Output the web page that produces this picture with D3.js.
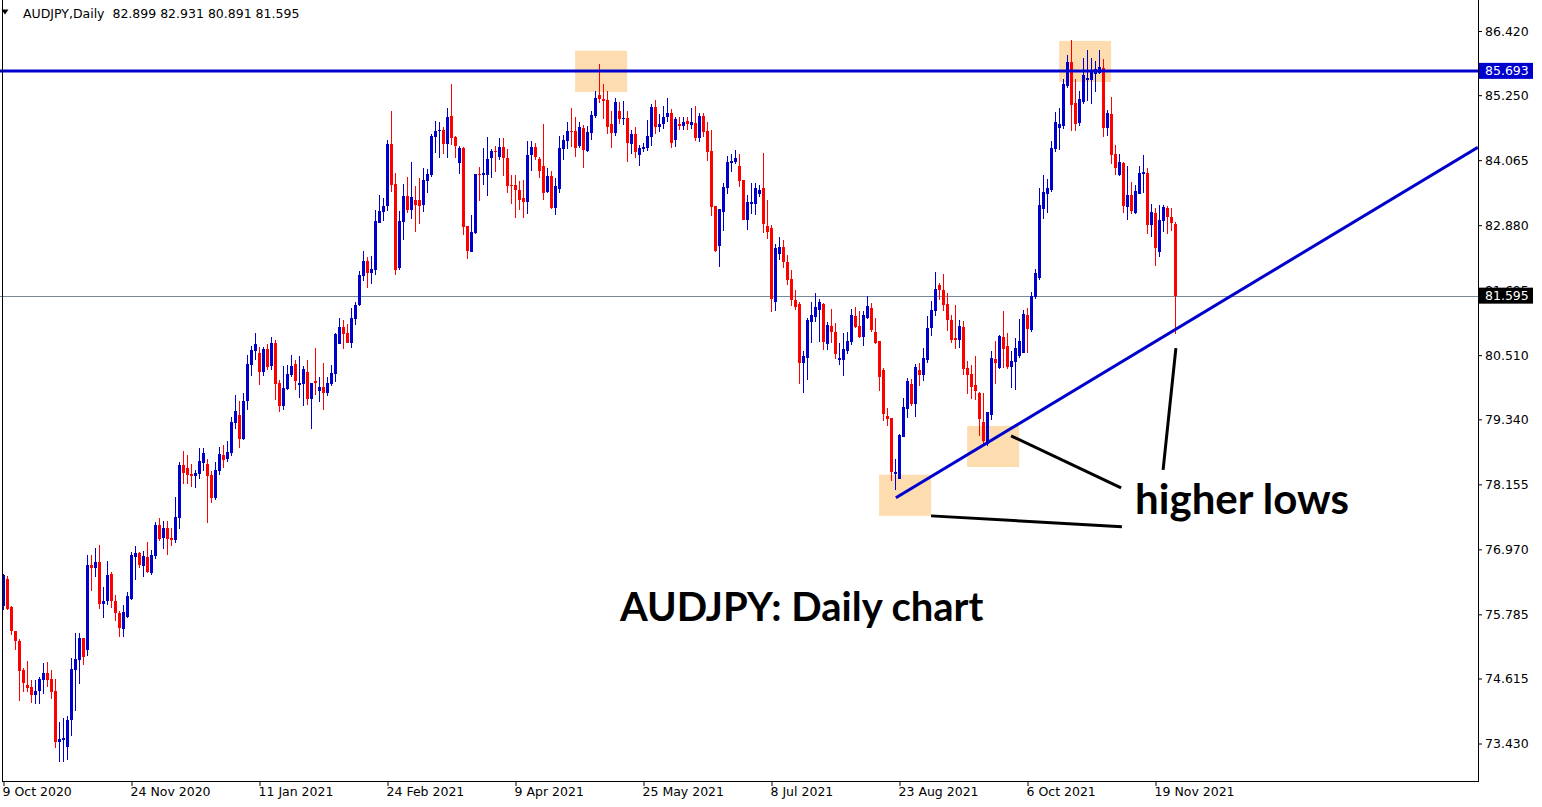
<!DOCTYPE html>
<html><head><meta charset="utf-8">
<script src="https://cdn.jsdelivr.net/npm/d3@7"></script>
<style>
html,body{margin:0;padding:0;background:#fff;}
svg{display:block;}
</style></head><body>
<svg id="chart" width="1542" height="807"></svg>
<script>
// ---------- DATA ----------
const symbolLabel = "AUDJPY,Daily";
const headerOHLC = [82.899, 82.931, 80.891, 81.595];

const opens = [
75.94,76.43,75.91,75.48,75.30,74.77,74.50,74.46,74.31,74.39,
74.59,74.72,74.61,74.39,73.46,73.49,73.37,73.86,74.77,74.95,
75.35,75.13,76.68,76.63,76.74,75.97,76.03,76.52,76.03,75.81,
75.52,75.74,76.06,76.83,76.90,76.67,76.83,76.54,76.85,77.41,
77.18,77.36,77.18,77.14,77.54,78.51,78.45,78.34,78.31,78.34,
78.54,78.53,78.33,77.91,78.40,78.69,78.62,78.73,79.27,79.42,
78.98,79.67,80.33,80.59,80.55,80.20,80.62,80.31,80.73,80.00,
79.58,79.89,80.15,80.35,79.97,79.98,80.20,79.71,80.04,79.86,
79.93,79.82,79.98,80.17,80.71,81.02,80.91,80.73,81.17,81.42,
81.95,82.23,82.01,82.06,82.92,83.12,83.23,84.36,83.63,82.10,
82.94,83.41,83.16,83.34,83.34,83.25,83.69,83.79,84.49,84.60,
84.61,84.36,84.87,84.49,84.01,84.29,82.86,82.39,82.74,83.81,
83.79,83.79,84.10,84.23,84.12,84.31,84.10,83.61,83.61,83.52,
83.38,83.30,84.16,84.31,84.09,83.96,83.48,83.78,83.19,83.54,
84.27,84.41,84.60,84.60,84.32,84.65,84.23,84.56,84.87,85.25,
85.18,85.16,84.72,84.56,84.96,84.82,84.83,84.36,84.54,84.16,
84.27,84.29,84.49,85.03,84.67,84.72,84.85,84.92,84.43,84.72,
84.69,84.78,84.71,84.74,84.47,84.87,84.60,84.23,83.23,82.50,
83.12,83.56,84.01,84.03,83.96,83.70,82.97,83.27,83.27,83.45,
83.56,82.86,82.83,81.48,82.35,82.48,82.21,81.90,81.52,81.44,
80.37,80.46,81.11,81.21,81.33,81.44,80.71,81.04,80.93,80.42,
80.42,80.59,80.75,81.22,81.04,80.84,81.19,81.37,80.93,80.77,
80.24,79.40,79.36,78.34,78.25,79.02,79.53,79.98,79.62,80.24,
80.15,80.42,81.00,81.31,81.79,81.70,81.44,81.15,80.82,80.79,
81.02,80.28,80.17,79.97,79.82,79.29,78.89,79.42,80.44,80.28,
80.84,80.68,80.29,80.39,80.49,80.55,81.24,80.97,81.57,81.92,
83.17,83.45,83.52,84.27,84.65,84.69,85.42,85.85,85.11,84.74,
85.13,85.53,85.53,85.64,85.65,85.75,84.65,84.91,84.18,83.79,
84.01,83.21,83.43,83.10,83.45,83.81,83.83,82.88,83.10,82.39,
82.96,83.19,83.03,82.899];

const highs = [
76.52,76.48,75.94,75.48,75.34,74.81,74.93,74.59,74.59,74.65,
74.90,74.92,74.77,74.61,73.82,73.90,73.93,74.99,75.44,75.44,
75.35,76.87,76.87,76.99,77.05,76.28,76.76,76.56,76.14,75.85,
75.96,76.19,76.92,77.03,76.92,76.94,77.10,76.96,77.47,77.54,
77.49,77.49,77.36,77.92,78.56,78.76,78.69,78.53,78.42,78.82,
78.82,78.62,78.40,78.56,78.84,78.87,78.95,79.38,79.78,79.67,
79.82,80.51,80.68,80.91,80.66,80.66,80.71,80.84,80.79,80.06,
80.31,80.33,80.51,80.42,80.49,80.31,80.42,80.00,80.64,80.11,
80.37,80.11,80.33,80.91,81.19,81.15,81.08,81.37,81.48,82.04,
82.41,82.30,82.32,83.16,83.43,83.37,84.43,84.96,83.83,83.14,
83.63,83.76,84.03,83.59,83.74,83.92,83.90,84.54,84.78,84.76,
84.67,85.02,85.45,84.51,84.32,84.31,82.86,83.07,83.81,83.94,
84.29,84.49,84.27,84.32,84.47,84.47,84.27,83.79,83.79,83.69,
83.70,84.41,84.41,84.38,84.12,84.72,83.92,83.87,83.74,84.51,
84.52,84.76,85.02,84.85,84.76,84.71,84.69,84.96,85.33,85.82,
85.45,85.33,84.96,85.20,85.13,85.14,84.96,84.61,84.67,84.34,
84.38,84.80,85.09,85.16,84.91,85.05,85.20,85.00,84.85,84.85,
84.85,84.85,85.02,85.05,84.92,84.92,84.76,84.61,83.23,83.17,
83.65,84.14,84.18,84.25,84.18,83.70,83.43,83.65,83.65,83.61,
84.20,83.34,82.88,82.54,82.66,82.61,82.34,82.06,81.70,81.48,
80.58,81.19,81.48,81.64,81.53,81.46,81.11,81.35,81.09,80.73,
80.91,80.93,81.35,81.39,81.31,81.31,81.59,81.46,81.19,80.77,
80.28,79.55,79.36,78.62,79.07,79.73,80.09,80.07,80.35,80.37,
80.64,81.22,81.50,82.03,81.83,81.99,81.64,81.24,81.42,81.15,
81.13,80.40,80.33,80.49,79.84,79.82,79.47,80.59,80.77,80.88,
81.31,80.91,80.59,80.82,81.17,81.33,81.37,81.66,82.08,83.56,
83.79,83.72,84.41,84.94,85.02,85.54,85.98,86.26,85.54,85.33,
85.93,86.07,85.93,85.87,86.07,85.91,84.98,85.22,84.34,84.18,
84.03,83.96,83.67,83.61,83.96,84.16,83.92,83.27,83.19,83.25,
83.25,83.23,83.19,82.931];

const lows = [
75.86,75.86,75.41,75.13,74.21,74.37,74.37,74.17,74.15,74.15,
74.34,74.46,74.24,73.35,73.10,73.10,73.13,73.57,74.02,74.52,
74.86,75.03,76.21,76.47,75.88,75.72,75.96,75.90,75.66,75.37,
75.37,75.72,76.05,76.41,76.63,76.47,76.54,76.50,76.79,77.12,
76.98,76.87,77.03,77.09,77.34,78.16,78.16,78.11,78.09,78.25,
78.40,77.45,77.81,77.87,78.33,78.45,78.56,78.67,79.16,78.82,
78.96,79.51,80.13,80.42,79.97,80.13,80.24,80.24,79.69,79.47,
79.51,79.87,80.11,79.87,79.73,79.58,79.60,79.16,79.78,79.66,
79.51,79.77,79.95,80.02,80.71,80.62,80.73,80.64,81.06,81.40,
81.86,81.73,81.81,81.97,82.92,82.96,83.14,83.48,81.97,82.06,
82.61,83.10,82.99,82.76,82.90,83.12,83.47,83.76,84.20,84.10,
84.18,84.10,84.34,84.10,83.81,82.70,82.26,82.39,82.72,83.32,
83.61,83.41,83.74,83.85,84.07,83.78,83.47,83.27,83.01,83.16,
83.01,83.08,83.87,84.07,83.74,83.34,83.47,83.17,83.07,83.47,
84.07,84.27,84.31,84.12,84.29,83.92,84.21,84.43,84.83,85.11,
84.82,84.54,84.29,84.51,84.72,84.71,84.03,84.18,84.10,83.96,
84.21,84.23,84.32,84.54,84.58,84.63,84.76,84.29,84.31,84.62,
84.62,84.62,84.63,84.41,84.40,84.49,84.05,83.05,82.39,82.12,
82.77,83.45,83.85,83.99,83.58,82.97,82.79,83.08,83.07,83.39,
82.74,82.63,81.30,81.31,82.24,82.10,81.79,81.41,81.33,79.98,
79.82,80.06,80.73,81.11,80.75,80.60,80.60,80.73,80.44,80.33,
80.13,80.53,80.69,81.00,80.82,80.68,81.17,80.93,80.71,79.86,
79.31,79.22,78.22,78.05,78.25,79.02,79.36,79.58,79.38,79.95,
80.04,80.37,80.86,81.22,81.52,81.32,80.95,80.73,80.62,80.64,
80.15,79.80,79.71,79.69,79.04,78.85,78.85,79.33,79.98,80.26,
80.28,80.26,79.91,79.87,80.46,80.55,80.55,80.93,81.53,81.88,
82.99,83.10,83.48,84.21,84.25,84.63,85.38,84.60,84.60,84.69,
85.09,85.14,85.09,85.31,85.64,84.49,84.51,83.99,83.79,83.78,
83.10,82.97,83.08,83.08,83.45,83.47,82.72,82.66,82.14,82.30,
82.76,82.72,82.77,80.891];

const closes = [
76.50,75.88,75.48,75.29,74.75,74.54,74.44,74.31,74.39,74.61,
74.72,74.59,74.37,73.46,73.51,73.53,73.86,74.79,74.97,75.35,
75.01,76.68,76.63,76.74,75.97,76.03,76.50,76.03,75.81,75.54,
75.83,76.12,76.87,76.90,76.68,76.85,76.56,76.87,77.41,77.16,
77.36,77.16,77.14,77.56,78.51,78.36,78.32,78.31,78.36,78.58,
78.73,78.31,77.91,78.42,78.71,78.60,78.74,79.29,79.49,78.98,
79.67,80.35,80.60,80.71,80.20,80.62,80.29,80.73,79.98,79.58,
79.91,80.17,80.31,80.04,80.00,80.26,79.71,80.00,80.00,79.93,
79.82,80.00,80.19,80.90,81.02,80.90,80.73,81.19,81.42,81.97,
82.23,82.01,82.08,82.96,83.14,83.23,84.36,83.61,82.06,82.96,
83.41,83.16,83.39,83.25,83.23,83.70,83.81,84.51,84.60,84.61,
84.36,84.85,84.47,84.32,84.29,82.85,82.41,82.76,83.81,83.79,
83.83,84.09,84.23,84.21,84.31,84.10,83.59,83.59,83.52,83.34,
83.30,84.16,84.31,84.12,83.87,83.47,83.78,83.19,83.59,84.29,
84.43,84.60,84.58,84.29,84.67,84.25,84.58,84.89,85.20,85.18,
85.14,84.67,84.56,85.13,84.82,84.83,84.38,84.54,84.21,84.29,
84.31,84.51,85.03,84.67,84.72,84.85,84.92,84.38,84.82,84.69,
84.76,84.72,84.76,84.47,84.87,84.58,84.21,83.21,82.41,83.17,
83.58,84.03,84.05,84.10,83.69,82.97,83.30,83.30,83.56,83.52,
82.90,82.76,81.53,82.46,82.48,82.21,81.88,81.52,81.39,80.37,
80.49,81.15,81.24,81.39,81.48,80.75,81.06,80.93,80.53,80.46,
80.62,80.77,81.24,81.02,80.84,81.24,81.41,80.97,80.73,80.11,
79.44,79.35,78.38,78.38,79.05,79.56,80.04,79.62,80.29,80.15,
80.46,81.00,81.33,81.71,81.70,81.42,81.15,80.79,80.79,81.04,
80.26,80.15,79.93,79.86,79.35,78.95,79.47,80.46,80.37,80.86,
80.62,80.29,80.40,80.64,80.77,81.26,80.99,81.59,82.01,83.25,
83.48,83.56,84.29,84.76,84.72,85.45,85.85,85.07,84.72,85.18,
85.62,85.56,85.67,85.73,85.76,84.65,84.93,84.16,83.92,84.03,
83.23,83.43,83.14,83.50,83.83,83.85,82.88,83.12,82.46,82.97,
83.21,83.03,82.92,81.595];

const xTickBars   = [0, 32, 64, 96, 128, 160, 192, 224, 256, 288];
const xTickLabels = ["9 Oct 2020","24 Nov 2020","11 Jan 2021","24 Feb 2021","9 Apr 2021",
                     "25 May 2021","8 Jul 2021","23 Aug 2021","6 Oct 2021","19 Nov 2021"];
const yTickValues = [86.420, 85.250, 84.065, 82.880, 81.695, 80.510, 79.340, 78.155, 76.970, 75.785, 74.615, 73.430];

const resistanceLevel = 85.693;
const lastPrice = 81.595;
// trend line anchors (bar index, price)
const trendLine = [{i: 223.1, p: 77.91}, {i: 368.6, p: 84.30}];
// highlighted zones (bar index range, price range)
const zones = [
  {i0: 142.9, i1: 155.9, p0: 85.31, p1: 86.06},
  {i0: 263.9, i1: 276.9, p0: 85.49, p1: 86.24},
  {i0: 240.9, i1: 253.9, p0: 78.47, p1: 79.22},
  {i0: 218.9, i1: 231.9, p0: 77.58, p1: 78.33}
];
// callout lines (bar index, price)
const callouts = [
  [{i: 251.9, p: 79.04}, {i: 279.4, p: 78.09}],
  [{i: 231.9, p: 77.58}, {i: 279.6, p: 77.38}],
  [{i: 293.1, p: 80.64}, {i: 289.9, p: 78.42}]
];
const notes = [
  {text: "higher lows", i: 282.9, p: 77.61, size: 42},
  {text: "AUDJPY: Daily chart", i: 154.1, p: 75.66, size: 40}
];

// ---------- DRAWING ----------
const W = 1542, H = 807;
const plotLeft = 2, plotRight = 1478, plotTop = 0, plotBottom = 781;
const BLUE = "#0000CD", RED = "#FF0000";
const FONT = "'DejaVu Sans', sans-serif";

const n = closes.length;
const x = d3.scaleLinear().domain([0, n - 1]).range([3.5, 3.5 + 4 * (n - 1)]);
const y = d3.scaleLinear().domain([73.43, 86.42]).range([743.5, 31]);

const svg = d3.select("#chart");
svg.append("rect").attr("width", W).attr("height", H).attr("fill", "#fff");

svg.append("defs").append("clipPath").attr("id", "plotClip")
  .append("rect").attr("x", 0).attr("y", plotTop).attr("width", plotRight).attr("height", plotBottom - plotTop);

const plot = svg.append("g").attr("clip-path", "url(#plotClip)");

// zones (behind candles)
plot.append("g").selectAll("rect").data(zones).join("rect")
  .attr("x", d => x(d.i0)).attr("width", d => x(d.i1) - x(d.i0))
  .attr("y", d => y(d.p1)).attr("height", d => y(d.p0) - y(d.p1))
  .attr("fill", "#FDDDB0");

// last price grey line
plot.append("line")
  .attr("x1", 0).attr("x2", plotRight)
  .attr("y1", Math.round(y(lastPrice)) + 0.5).attr("y2", Math.round(y(lastPrice)) + 0.5)
  .attr("stroke", "#778899").attr("stroke-width", 1);

// candles
const bars = d3.range(n).map(i => {
  const o = opens[i], c = closes[i];
  return {i, o, c, h: Math.max(highs[i], o, c), l: Math.min(lows[i], o, c)};
});
const cg = plot.append("g").attr("shape-rendering", "crispEdges");
cg.selectAll("rect.wick").data(bars).join("rect").attr("class", "wick")
  .attr("x", d => x(d.i) - 0.5).attr("width", 1)
  .attr("y", d => y(d.h)).attr("height", d => Math.max(1, y(d.l) - y(d.h)))
  .attr("fill", d => d.c >= d.o ? BLUE : RED);
cg.selectAll("rect.body").data(bars).join("rect").attr("class", "body")
  .attr("x", d => x(d.i) - 1.5).attr("width", 3)
  .attr("y", d => y(Math.max(d.o, d.c))).attr("height", d => Math.max(1, Math.abs(y(d.o) - y(d.c))))
  .attr("fill", d => d.c >= d.o ? BLUE : RED);

// resistance line
plot.append("line")
  .attr("x1", 0).attr("x2", plotRight)
  .attr("y1", y(resistanceLevel)).attr("y2", y(resistanceLevel))
  .attr("stroke", BLUE).attr("stroke-width", 3);

// trend line
plot.append("line")
  .attr("x1", x(trendLine[0].i)).attr("y1", y(trendLine[0].p))
  .attr("x2", x(trendLine[1].i)).attr("y2", y(trendLine[1].p))
  .attr("stroke", BLUE).attr("stroke-width", 3);

// callouts
plot.append("g").selectAll("line").data(callouts).join("line")
  .attr("x1", d => x(d[0].i)).attr("y1", d => y(d[0].p))
  .attr("x2", d => x(d[1].i)).attr("y2", d => y(d[1].p))
  .attr("stroke", "#000").attr("stroke-width", 3);

// notes
plot.append("g").selectAll("text").data(notes).join("text")
  .attr("x", d => x(d.i)).attr("y", d => y(d.p))
  .attr("font-family", "Lato, 'Open Sans', sans-serif").attr("font-weight", 700)
  .attr("font-size", d => d.size).attr("fill", "#000")
  .text(d => d.text);

// frame
const frame = svg.append("g").attr("stroke", "#000").attr("stroke-width", 1).attr("shape-rendering", "crispEdges");
frame.append("line").attr("x1", plotLeft + 0.5).attr("x2", plotLeft + 0.5).attr("y1", 0).attr("y2", plotBottom + 0.5);
frame.append("line").attr("x1", plotRight + 0.5).attr("x2", plotRight + 0.5).attr("y1", 0).attr("y2", plotBottom + 0.5);
frame.append("line").attr("x1", plotLeft).attr("x2", plotRight + 1).attr("y1", plotBottom + 0.5).attr("y2", plotBottom + 0.5);

// right axis
const yAxis = d3.axisRight(y).tickValues(yTickValues).tickFormat(d3.format(".3f")).tickSize(4).tickSizeOuter(0);
const gy = svg.append("g").attr("transform", `translate(${plotRight},0)`).call(yAxis);
gy.select(".domain").remove();
gy.selectAll("text").attr("font-family", FONT).attr("font-size", 12.5).attr("fill", "#000").attr("x", 7);
gy.selectAll("line").attr("stroke", "#000");

// bottom axis
const xAxis = d3.axisBottom(x).tickValues(xTickBars).tickFormat((d, i) => xTickLabels[i]).tickSize(5).tickSizeOuter(0);
const gx = svg.append("g").attr("transform", `translate(0,${plotBottom})`).call(xAxis);
gx.select(".domain").remove();
gx.selectAll("text").attr("font-family", FONT).attr("font-size", 12.5).attr("fill", "#000")
  .attr("text-anchor", "start").attr("x", -1.5).attr("y", 6).attr("dy", "0.71em");
gx.selectAll("line").attr("stroke", "#000");

// price label boxes
function priceBox(value, bg) {
  const g = svg.append("g").attr("transform", `translate(${plotRight + 1},${y(value)})`);
  g.append("rect").attr("x", 0).attr("y", -8).attr("width", 54).attr("height", 16).attr("fill", bg);
  g.append("text").attr("x", 6).attr("dy", "0.36em").attr("font-family", FONT).attr("font-size", 12.5)
    .attr("fill", "#fff").text(d3.format(".3f")(value));
}
priceBox(resistanceLevel, BLUE);
priceBox(lastPrice, "#000");

// header
svg.append("path").attr("d", "M1.5,9.5 L8.5,9.5 L5,14.5 Z").attr("fill", "#000");
svg.append("text").attr("x", 23).attr("y", 18).attr("font-family", FONT).attr("font-size", 12.5)
  .attr("fill", "#000").attr("xml:space", "preserve").style("white-space", "pre")
  .text(symbolLabel + "  " + headerOHLC.map(d3.format(".3f")).join(" "));
</script>
</body></html>
